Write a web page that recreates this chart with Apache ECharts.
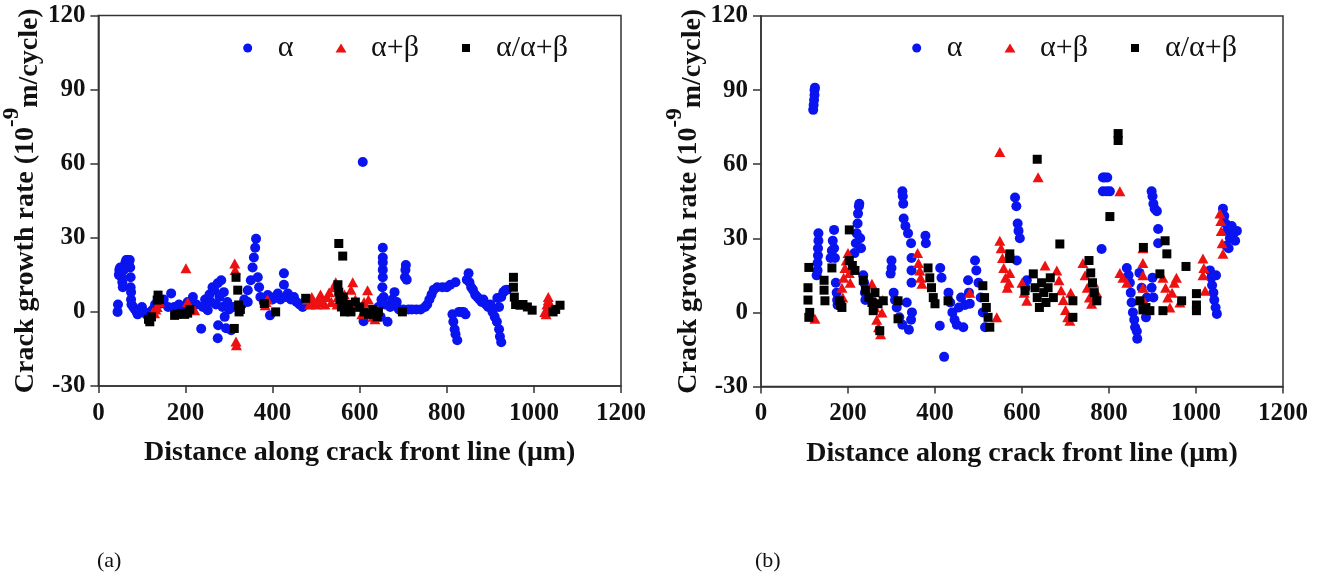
<!DOCTYPE html>
<html>
<head>
<meta charset="utf-8">
<title>Crack growth rate</title>
<script src="https://cdn.jsdelivr.net/npm/echarts@6/dist/echarts.min.js"></script>
<style>
  html, body { margin: 0; padding: 0; background: #fff; }
  #main { width: 1325px; height: 578px; }
</style>
</head>
<body>
<div id="main"></div>
<script>
// 数据
var seriesNames = ['α', 'α+β', 'α/α+β'];
var xRange = [0, 1200, 200];
var yRange = [-30, 120, 30];

// (a) 左图
var leftAlpha = [
  [44,0],[45,3],[47,15],[48,17],[50,18],[52,16],[53,14],[55,12],[56,10],[58,17],[60,18],[62,20],[64,21],[66,21],
  [68,21],[70,20],[72,21],[73,18],[74,14],[74,10],[75,8],[75,5],[76,3],[80,2],[84,1],[88,0],[90,-1],[95,1],
  [100,2],[105,0],[110,-1],[115,-2],[120,0],[125,1],[130,3],[144,3.4],[150,5],[160,2],[167,7.5],[174,2],
  [185,3],[194,2],[205,4],[217,6],[225,3],[236,-6.8],[240,2],[245,5],[251,0.7],[255,7],[258,4],[262,10],
  [266,8.8],[270,3],[274,11.6],[274,-10.7],[275,-5.4],[278,6],[282,12.8],[285,2],[288,8],[290,-2],[293,-6.6],
  [296,4],[300,1],[305,-7.4],[310,2],[330,3],[335,5],[343,4],[343,8.8],[350,12.8],[354,18],[357,22],[360,26],
  [362,29.6],[366,14],[369,10],[372,6],[380,4],[389,6.8],[394,-1.4],[400,5],[405,6],[412,7.4],[418,5],
  [426,15.6],[426,11],[430,6],[435,7.4],[442,5],[449,6],[455,4],[462,3],[469,2],[475,4],
  [607,60.7],[609,-3.8],[643,2],[648,-2],[650,5],[652,10],[653,14],[653,17],[653,20],[653,22],[653,26],
  [655,6],[658,3],[664,-4],[670,2],[675,5],[680,8],[685,4],[690,1],[700,1],[704,14],[705,17],[706,19],
  [708,13],[712,1],[720,1],[730,1],[740,1],[750,2],[755,3],[760,5],[765,7],[770,9],[778,10],[790,10],
  [800,10],[808,11],[820,12],[813,-1],[815,-4],[818,-7],[820,-9],[824,-11.5],[828,0],[833,0],[838,0],
  [843,-1],[846,13],[850,15.6],[852,12],[856,10],[860,9],[865,7],[870,6],[875,5],[880,4],[884,5],[890,3],
  [895,2],[900,3],[905,0],[910,-2],[915,-4],[916,5.6],[920,-7],[922,-10],[925,-12.3],[920,2],[925,6],
  [930,8],[934,8.8],[938,9]
];
var leftAlphaBeta = [
  [125,0],[129,-0.5],[132,1],[135,2],[140,4],[201,17.7],[205,4],[210,2],[215,1],[221,0.7],
  [313,19.6],[314,17],[316,-12],[317,-13.5],[383,2.7],[385,4],[388,5],
  [481,5],[485,3],[490,6],[495,4],[500,3],[505,5],[510,7],[515,4],[520,3],[525,6],[530,8],[535,4],
  [540,10],[545,12],[548,3],[550,6],[553,9],[556,5],[560,4],[565,7],[570,3],[575,2],[580,9],[584,12],
  [590,5],[595,3],[600,2],[605,-1],[610,4],[618,8.8],[620,5],[625,0],[630,-2],[635,-3],[640,1],
  [1025,0],[1028,-1],[1030,1],[1030,3],[1033,4.7],[1033,6],[1036,2]
];
var leftMixed = [
  [115,-3],[118,-4],[122,-2],[135,4.8],[137,6.8],[140,5],[175,-1.4],[180,-1],[190,-0.6],[198,-1],
  [205,-0.5],[210,1],[312,-6.7],[316,14],[320,8.8],[322,2.8],[323,0],[326,1],[381,3.4],[407,0],[476,5.5],
  [552,27.7],[561,22.6],[550,11],[552,8],[555,5],[558,2],[562,6],[565,0],[570,3],[575,1],[580,0],
  [590,4],[600,2],[610,0],[620,-1],[630,1],[640,-2],[643,0],[698,0],
  [953,14],[953,10],[955,6],[958,3],[968,2.7],[975,3],[985,2],[996,0.7],[1044,0],[1050,1],[1060,2.7]
];

// (b) 右图
var rightAlpha = [
  [120,82],[121,84],[122,86],[123,88],[123,90],[124,91],
  [128,15],[130,17],[130,20],[131,23],[131,26],[132,29],[132,32],
  [160,22],[163,25],[165,29],[168,33.4],[168,26],[170,22],[172,12],[174,8],[175,5],[176,3],
  [215,24],[218,28],[220,32],[222,36],[223,40],[225,43],[226,44],[228,30],[230,26],
  [235,15],[237,12],[239,8],[240,5],[298,15.7],[300,18],[300,21],
  [305,8],[308,5],[312,2],[318,-2],[325,-5],[340,-7],[345,-3],[347,0],[335,4],
  [325,49],[326,47],[327,44],[328,38],[332,35],[338,32],[345,28],[346,22],[346,17],[346,12],
  [378,31],[379,28],[412,18],[415,14],[411,-5.4],[421,-18],
  [431,8],[435,4],[440,0],[445,-3],[450,-5],[455,2],[460,6],[465,-6],[469,3],
  [476,13],[478,8],[480,3.5],[492,21],[495,17],[500,12],[505,6],[510,0],[515,-6],
  [584,46.5],[587,43],[590,36],[592,33],[595,30],[588,21],[608,10],[611,13],
  [783,25.7],[786,54.6],[790,54.6],[796,54.6],[786,49],[795,49],[802,49],
  [841,18],[845,15],[848,12],[850,8],[852,4],[855,0],[858,-3],[860,-6],[864,-7.6],[865,-10.7],
  [870,16],[875,10],[880,2],[885,-2],[887,6],
  [898,49],[900,47],[902,44],[905,42],[910,41],[913,33.8],[913,28],[898,10],[900,14],[902,6],
  [1032,17],[1035,14],[1037,11],[1040,8],[1042,5],[1045,2],[1048,-0.6],[1046,15],
  [1062,42],[1065,39],[1068,36],[1072,33],[1078,30],[1082,35],[1086,32],[1090,29],[1094,33],[1070,27],[1075,26]
];
var rightAlphaBeta = [
  [124,-2.6],[186,10],[188,6],[190,14],[193,18],[196,21],[200,24],[203,16],[205,12],
  [255,11.6],[258,6],[262,2],[266,-3],[270,-6],[275,-8.8],[278,0],[280,5],
  [360,24],[362,20],[365,17],[367,14],[370,11.6],[480,8],[542,-2],[549,64.9],
  [549,29],[552,26],[555,22],[558,18],[562,14],[566,10],[570,12],[572,16],
  [600,12],[605,8],[611,4.7],[637,54.7],[653,19],
  [680,17],[685,13],[690,9],[695,5],[700,1],[705,-2],[710,-3.4],[712,8],
  [740,20],[745,15],[750,10],[755,6],[760,3.5],[765,12],[772,8],
  [825,49],[825,16],[832,14],[841,12],[878,26],[878,20],[878,15],[878,10],[880,4.7],
  [924,14],[930,10],[935,6],[940,2],[945,8],[950,12],[955,14],[963,4],
  [1016,21.8],[1018,18],[1016,15],[1021,8.8],[1055,40],[1057,37],[1058,33],[1060,28],[1062,23.7]
];
var rightMixed = [
  [108,5],[108,10],[110,18.2],[110,-2],[112,0],[145,13],[145,9],[147,4.7],[163,18],[180,4.7],[183,3],[186,2],
  [203,33.4],[203,21],[210,19],[216,17],[235,13],[240,9],[248,6],[255,4],[258,0.7],[262,8],[269,3.5],
  [273,-7.4],[281,4.7],[315,4.7],[315,-2.6],[384,18],[388,14],[392,10],[396,6],[400,3.5],[430,4.7],
  [510,10.8],[514,6],[518,2],[522,-2],[526,-6],[572,21.8],[572,23.7],[607,8.8],
  [626,15.6],[630,10],[635,6],[640,2],[645,12],[650,8],[655,4],[660,10],[665,14],[672,6],
  [635,62],[687,27.7],[717,4.7],[717,-2],[754,21],[758,16],[762,12],[766,8],[772,4.7],
  [802,38.8],[821,72.4],[821,69.6],[871,4.7],[878,1],[885,2],[894,0.7],[879,26.3],[917,15.6],
  [929,29],[933,23.7],[924,0.7],[967,4.7],[977,18.6],[1001,7.6],[1001,3],[1001,0.7]
];

var serif = '"Liberation Serif", "Times New Roman", serif';
var axisColor = '#333';
var symbols = ['circle', 'triangle', 'rect'];
var symbolSizes = [10, [11, 10], 9];
var colors = ['#0a14f0', '#ee1111', '#000000'];

var dom = document.getElementById('main');
var myChart = echarts.init(dom);

function xAxisOf(i) {
    return {
        gridIndex: i, type: 'value',
        min: xRange[0], max: xRange[1], interval: xRange[2],
        axisLine: { onZero: false, lineStyle: { color: axisColor, width: 1.5 } },
        axisTick: { length: 7, lineStyle: { color: axisColor, width: 1.5 } },
        axisLabel: {
            fontFamily: serif, fontWeight: 'bold', fontSize: 25, color: '#111', margin: 15,
            formatter: function (v) { return String(v); }
        },
        splitLine: { show: false },
        name: 'Distance along crack front line (μm)',
        nameLocation: 'middle', nameGap: 53,
        nameTextStyle: { fontFamily: serif, fontWeight: 'bold', fontSize: 28, color: '#111' }
    };
}

function yAxisOf(i) {
    return {
        gridIndex: i, type: 'value',
        min: yRange[0], max: yRange[1], interval: yRange[2],
        axisLine: { onZero: false, lineStyle: { color: axisColor, width: 1.5 } },
        axisTick: { length: 8, lineStyle: { color: axisColor, width: 1.5 } },
        axisLabel: {
            fontFamily: serif, fontWeight: 'bold', fontSize: 25, color: '#111', margin: 13,
            formatter: function (v) { return String(v); }
        },
        splitLine: { show: false },
        name: '{b|Crack growth rate (10}{sup|-9}{sub|m/cycle)}',
        nameLocation: 'middle', nameGap: 40, nameRotate: 90,
        nameTextStyle: {
            rich: {
                b: { fontFamily: serif, fontWeight: 'bold', fontSize: 28, color: '#111', lineHeight: 50, verticalAlign: 'middle' },
                sup: { fontFamily: serif, fontWeight: 'bold', fontSize: 23, color: '#111', verticalAlign: 'top' },
                sub: { fontFamily: serif, fontWeight: 'bold', fontSize: 28, color: '#111', verticalAlign: 'middle', padding: [8, 0, 0, 0] }
            }
        }
    };
}

var panels = [[leftAlpha, leftAlphaBeta, leftMixed], [rightAlpha, rightAlphaBeta, rightMixed]];
var series = [];
for (var g = 0; g < 2; g++) {
    for (var k = 0; k < 3; k++) {
        series.push({
            name: seriesNames[k], type: 'scatter',
            xAxisIndex: g, yAxisIndex: g,
            symbol: symbols[k], symbolSize: symbolSizes[k],
            itemStyle: { color: colors[k], opacity: 1 },
            data: panels[g][k], z: 2 + k
        });
    }
}

// 图例: 每个系列一个, 位置对准原图
var legendIconX = [[242.7, 336, 461], [911.7, 1005, 1130]];
var legendIcon = [[9, 9], [11, 9], [8, 8]];
var legends = [];
for (var g2 = 0; g2 < 2; g2++) {
    for (var j = 0; j < 3; j++) {
        var w = legendIcon[j][0];
        legends.push({
            data: [seriesNames[j]], selectedMode: false,
            left: legendIconX[g2][j] - w / 2, top: 28,
            itemWidth: w, itemHeight: legendIcon[j][1],
            formatter: function (n) { return '{g| }' + n; },
            textStyle: { fontFamily: serif, fontSize: 30, color: '#111', rich: { g: { width: 25 - w / 2 } } }
        });
    }
}

option = {
    animation: false,
    backgroundColor: '#fff',
    grid: [
        { left: 97, top: 15.5, width: 524, height: 370.5, show: true, borderColor: axisColor, borderWidth: 1.5, containLabel: false },
        { left: 761, top: 16, width: 522, height: 370.5, show: true, borderColor: axisColor, borderWidth: 1.5, containLabel: false }
    ],
    xAxis: [xAxisOf(0), xAxisOf(1)],
    yAxis: [yAxisOf(0), yAxisOf(1)],
    legend: legends,
    series: series,
    graphic: [
        { type: 'text', left: 97, top: 550, style: { text: '(a)', font: '22px "Liberation Serif"', fill: '#111' } },
        { type: 'text', left: 755, top: 550, style: { text: '(b)', font: '22px "Liberation Serif"', fill: '#111' } }
    ]
};

if (option && typeof option === "object") {
    myChart.setOption(option, true);
}
</script>
</body>
</html>
